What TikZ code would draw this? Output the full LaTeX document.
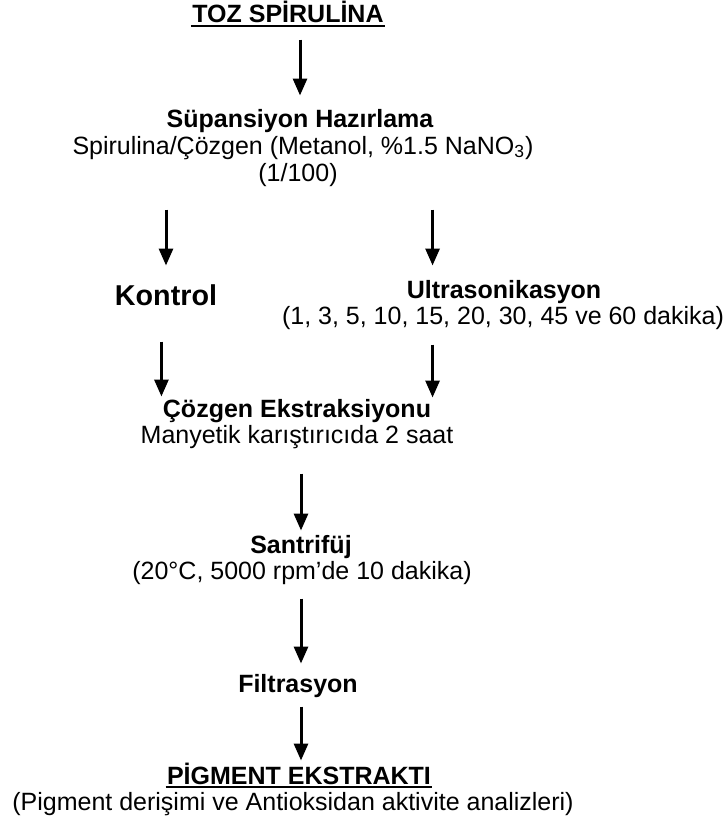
\documentclass[tikz,border=0pt]{standalone}
\usepackage{fontspec}
\setmainfont{Liberation Sans}
\usetikzlibrary{arrows.meta}

\begin{document}
\begin{tikzpicture}[
  x=0.5pt, y=-0.5pt,
  >={Triangle[length=8.5pt,width=7pt]},
  line width=1.5pt,
  every node/.style={inner sep=0pt, anchor=base, text height=9pt, text depth=2.5pt,
    font=\fontsize{12.5}{15}\selectfont},
  head/.style={font=\fontsize{12.5}{15}\selectfont\bfseries},
  big/.style={font=\fontsize{14.35}{17}\selectfont\bfseries, text height=10pt, text depth=3pt},
  uline/.style={line width=0.9pt}
]
  \useasboundingbox (0,0) rectangle (727,830);

  % Start and preparation
  \node[head] (toz)   at (288,23)  {TOZ SPİRULİNA};
  \node[head] (sus)   at (300,127) {Süpansiyon Hazırlama};
  \node       (solv)  at (303,154) {Spirulina/Çözgen (Metanol, \%1.5 NaNO\textsubscript{3})};
  \node       (ratio) at (298,181) {(1/100)};

  % Two branches
  \node[big]  (kontrol) at (166,305) {Kontrol};
  \node[head] (ultra)   at (504,298) {Ultrasonikasyon};
  \node       (times)   at (503,324) {(1, 3, 5, 10, 15, 20, 30, 45 ve 60 dakika)};

  % Extraction and after
  \node[head] (ext)  at (297,417) {Çözgen Ekstraksiyonu};
  \node       (many) at (297,443) {Manyetik karıştırıcıda 2 saat};
  \node[head] (sant) at (301,553) {Santrifüj};
  \node       (cond) at (302,579) {(20°C, 5000 rpm’de 10 dakika)};
  \node[head] (filt) at (298,692) {Filtrasyon};
  \node[head] (pig)  at (299,784) {PİGMENT EKSTRAKTI};
  \node       (anal) at (293,810) {(Pigment derişimi ve Antioksidan aktivite analizleri)};

  % Underlines of the two titles
  \draw[uline] ([yshift=-1.6pt]toz.base west) -- ([yshift=-1.6pt]toz.base east);
  \draw[uline] ([yshift=-1.6pt]pig.base west) -- ([yshift=-1.6pt]pig.base east);

  % Arrows
  \draw[->, shorten <=5pt, shorten >=6pt] (toz.south -| sus) -- (sus.north);
  \draw[->, shorten <=11pt, shorten >=9pt] (ratio.south -| kontrol) -- (kontrol.north);
  \draw[->, shorten <=11pt, shorten >=6.5pt] (ratio.south -| ext.east) -- (ultra.north -| ext.east);
  \draw[->, shorten <=14.5pt, shorten >=0.5pt] (kontrol.south -| ext.west) -- (ext.north west);
  \draw[->, shorten <=7pt] (times.south -| ext.east) -- (ext.north east);
  \draw[->, shorten <=12pt, shorten >=1.5pt] (many.south -| sant) -- (sant.north);
  \draw[->, shorten <=6.5pt, shorten >=4.5pt] (cond.south -| sant) -- (sant |- filt.north);
  \draw[->, shorten <=4pt, shorten >=2pt] (filt.south -| sant) -- (sant |- pig.north);
\end{tikzpicture}
\end{document}
